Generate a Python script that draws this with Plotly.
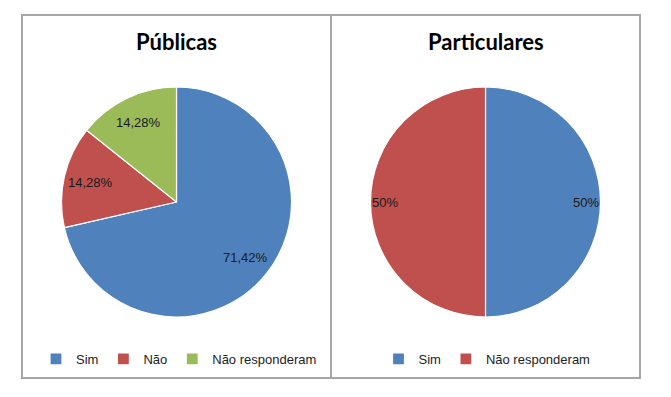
import math
import plotly.graph_objects as go

# ---- data ----
pub_labels = ["Sim", "Não", "Não responderam"]
pub_values = [71.42, 14.28, 14.28]
pub_text = ["71,42%", "14,28%", "14,28%"]

# zero-width space keeps this pie's colour map separate from the left pie's
par_labels = ["Sim\u200b", "Não responderam\u200b"]
par_values = [50, 50]
par_text = ["50%", "50%"]

titles = ["Públicas", "Particulares"]

pub_colors = ["#4F81BD", "#C0504D", "#9BBB59"]
par_colors = ["#4F81BD", "#C0504D"]

W, H = 671, 397

def px_x(v):
    return v / W

def px_y(v):
    return 1 - v / H

# panel geometry (pixels)
panels = [(22, 331), (331, 640)]
panel_top, panel_bottom = 15, 378
pie_cy = 202
pie_r = 115
label_frac = [0.77, 0.87]

fig = go.Figure()
annotations = []
shapes = []

datasets = [(pub_labels, pub_values, pub_text, pub_colors),
            (par_labels, par_values, par_text, par_colors)]
for i, ((x0, x1), (labels, values, texts, cols)) in enumerate(zip(panels, datasets)):
    cx = (x0 + x1) / 2
    fig.add_trace(go.Pie(
        labels=labels,
        values=values,
        sort=False,
        direction="clockwise",
        rotation=0,
        textinfo="none",
        hoverinfo="label+percent",
        marker=dict(colors=cols, line=dict(color="white", width=1.2)),
        domain=dict(x=[px_x(cx - pie_r), px_x(cx + pie_r)],
                    y=[px_y(pie_cy + pie_r), px_y(pie_cy - pie_r)]),
        legend="legend" if i == 0 else "legend2",
        showlegend=True,
    ))
    # data labels computed from slice mid-angles
    total = sum(values)
    cum = 0.0
    for v, t in zip(values, texts):
        mid = (cum + v / 2) / total * 2 * math.pi
        cum += v
        lx = cx + label_frac[i] * pie_r * math.sin(mid)
        ly = pie_cy - label_frac[i] * pie_r * math.cos(mid)
        annotations.append(dict(
            x=px_x(lx), y=px_y(ly), xref="paper", yref="paper",
            text=t, showarrow=False, xanchor="center", yanchor="middle",
            font=dict(family="Liberation Sans, Arial", size=13, color="#1a1a1a"),
        ))
    # title
    annotations.append(dict(
        x=px_x(cx), y=px_y(41), xref="paper", yref="paper",
        text="<b>" + titles[i] + "</b>", showarrow=False,
        xanchor="center", yanchor="middle",
        font=dict(family="Lato, Open Sans", size=22, color="#000000"),
    ))
    # panel border
    shapes.append(dict(
        type="rect", xref="paper", yref="paper",
        x0=px_x(x0), x1=px_x(x1), y0=px_y(panel_bottom), y1=px_y(panel_top),
        line=dict(color="#A6A6A6", width=2), fillcolor="rgba(0,0,0,0)", layer="below",
    ))

legend_font = dict(family="Liberation Sans, Arial", size=13, color="#222222")
fig.update_layout(
    width=W, height=H,
    margin=dict(l=0, r=0, t=0, b=0),
    paper_bgcolor="white",
    plot_bgcolor="white",
    annotations=annotations,
    shapes=shapes,
    legend=dict(orientation="h", x=px_x(179), y=px_y(359), xanchor="center", yanchor="middle",
                font=legend_font, itemwidth=30, bgcolor="rgba(0,0,0,0)", traceorder="normal"),
    legend2=dict(orientation="h", x=px_x(487), y=px_y(359), xanchor="center", yanchor="middle",
                 font=legend_font, itemwidth=30, bgcolor="rgba(0,0,0,0)", traceorder="normal"),
)

fig.write_html("out.html", config={"displayModeBar": False},
               post_script="document.body.style.margin='0';")
